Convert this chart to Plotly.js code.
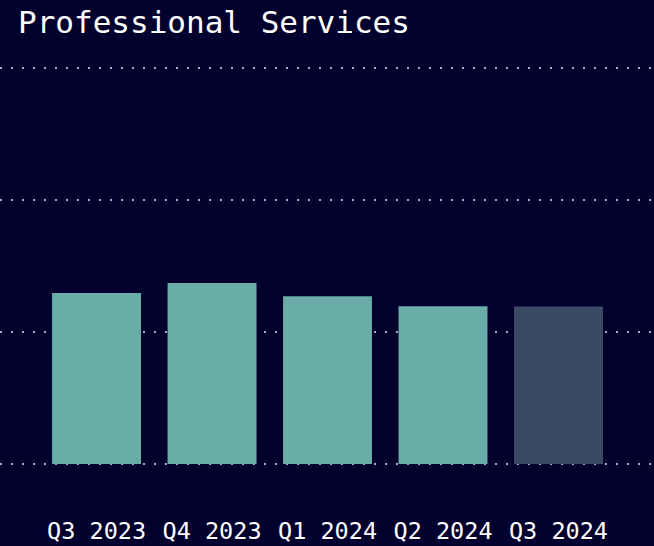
<!DOCTYPE html>
<html>
<head>
<meta charset="utf-8">
<script src="https://cdn.plot.ly/plotly-3.0.1.min.js"></script>
<style>html,body{margin:0;padding:0;background:#02012e;}#chart{width:654px;height:546px;}</style>
</head>
<body>
<div id="chart"></div>
<script>
const categories = ["Q3 2023", "Q4 2023", "Q1 2024", "Q2 2024", "Q3 2024"];
const values = [12.95, 13.7, 12.7, 11.95, 11.93];
const barColors = ["#6aada8", "#6aada8", "#6aada8", "#6aada8", "#3b4a63"];

const trace = {
  type: "bar",
  x: categories,
  y: values,
  marker: {color: barColors, line: {width: 0}},
  hoverinfo: "none"
};

const layout = {
  width: 654,
  height: 546,
  paper_bgcolor: "#02012e",
  plot_bgcolor: "#02012e",
  margin: {l: 0, r: 0, t: 50, b: 81, pad: 0},
  bargap: 0.23,
  showlegend: false,
  font: {family: "DejaVu Sans Mono, monospace", color: "#ffffff"},
  title: {
    text: "Professional Services",
    font: {family: "DejaVu Sans Mono, monospace", size: 31, color: "#ffffff"},
    xref: "container", yref: "container",
    x: 18/654, xanchor: "left",
    y: 1 - 22/546, yanchor: "middle"
  },
  xaxis: {
    type: "category",
    range: [-0.836, 4.827],
    showgrid: false,
    zeroline: false,
    showline: false,
    ticks: "",
    tickfont: {family: "DejaVu Sans Mono, monospace", size: 23.5, color: "#ffffff"},
    ticklabelstandoff: 49
  },
  yaxis: {
    range: [-0.08, 31.36],
    dtick: 10,
    tick0: 0,
    showticklabels: false,
    showgrid: true,
    gridcolor: "#a9a9c8",
    gridwidth: 1.5,
    griddash: "2px,9px",
    zeroline: false,
    showline: false,
    ticks: "",
    layer: "below traces"
  }
};

Plotly.newPlot("chart", [trace], layout, {displayModeBar: false, staticPlot: true});
</script>
</body>
</html>
